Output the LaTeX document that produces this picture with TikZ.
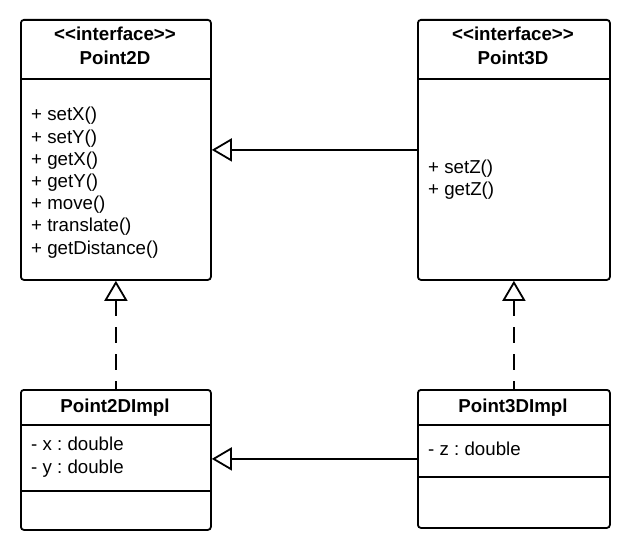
\documentclass[tikz,border=0pt]{standalone}
\usepackage{fontspec}
\setmainfont{Liberation Sans}
\usetikzlibrary{arrows.meta}
\frenchspacing
\newcommand{\fs}{\fontsize{18.7bp}{22bp}\selectfont}
\tikzset{
  umlbox/.style={draw, line width=1.8bp, rounded corners=3bp, inner sep=0pt, anchor=north west},
  sepline/.style={line width=1.8bp},
  txt/.style={anchor=base west, inner sep=0pt, font=\fs},
  ttl/.style={anchor=base, inner sep=0pt, font=\fs\bfseries},
  opentip/.tip={Triangle[open, fill=white, length=20bp, width=23bp]},
  realize/.style={line width=1.8bp, dash pattern=on 16bp off 11bp, opentip-},
  inherit/.style={line width=1.8bp, -opentip}
}
\begin{document}
\begin{tikzpicture}[x=1bp, y=-1bp]
\useasboundingbox (0,0) rectangle (621,539);
% boxes
\node[umlbox, minimum width=190bp, minimum height=260bp] (p2d) at (20,19) {};
\node[umlbox, minimum width=192bp, minimum height=260bp] (p3d) at (417,19) {};
\node[umlbox, minimum width=190bp, minimum height=140bp] (p2di) at (20,389) {};
\node[umlbox, minimum width=192bp, minimum height=138bp] (p3di) at (417,389) {};
% separators
\draw[sepline] (p2d.west |- 0,79) -- (p2d.east |- 0,79);
\draw[sepline] (p3d.west |- 0,79) -- (p3d.east |- 0,79);
\draw[sepline] (p2di.west |- 0,425) -- (p2di.east |- 0,425);
\draw[sepline] (p2di.west |- 0,491) -- (p2di.east |- 0,491);
\draw[sepline] (p3di.west |- 0,425) -- (p3di.east |- 0,425);
\draw[sepline] (p3di.west |- 0,477) -- (p3di.east |- 0,477);
% Point2D
\node[ttl] (p2dst) at (115,40.7) {<\kern0pt<interface>\kern0pt>};
\node[ttl] (p2dn) at (115,65) {Point2D};
\node[txt] (m1) at (31,121) {+ setX()};
\node[txt] (m2) at (31,143.2) {+ setY()};
\node[txt] (m3) at (31,165.4) {+ getX()};
\node[txt] (m4) at (31,187.6) {+ getY()};
\node[txt] (m5) at (31,209.8) {+ move()};
\node[txt] (m6) at (31,232) {+ translate()};
\node[txt] (m7) at (31,254.2) {+ getDistance()};
% Point3D
\node[ttl] (p3dst) at (513,40.7) {<\kern0pt<interface>\kern0pt>};
\node[ttl] (p3dn) at (513,65) {Point3D};
\node[txt] (n1) at (428,174) {+ setZ()};
\node[txt] (n2) at (428,196) {+ getZ()};
% Point2DImpl
\node[ttl] (p2din) at (115,412) {Point2DImpl};
\node[txt] (a1) at (31,450) {- x : double};
\node[txt] (a2) at (31,473) {- y : double};
% Point3DImpl
\node[ttl] (p3din) at (513,412) {Point3DImpl};
\node[txt] (b1) at (428,455) {- z : double};
% connectors
\draw[inherit] (p3d.west) -- (p2d.east);
\draw[inherit] (p3di.west) -- (p3di.west -| p2di.east);
\draw[realize] (p2d.south) -- (p2di.north);
\draw[realize] (p3d.south) -- (p3di.north);
\end{tikzpicture}
\end{document}
